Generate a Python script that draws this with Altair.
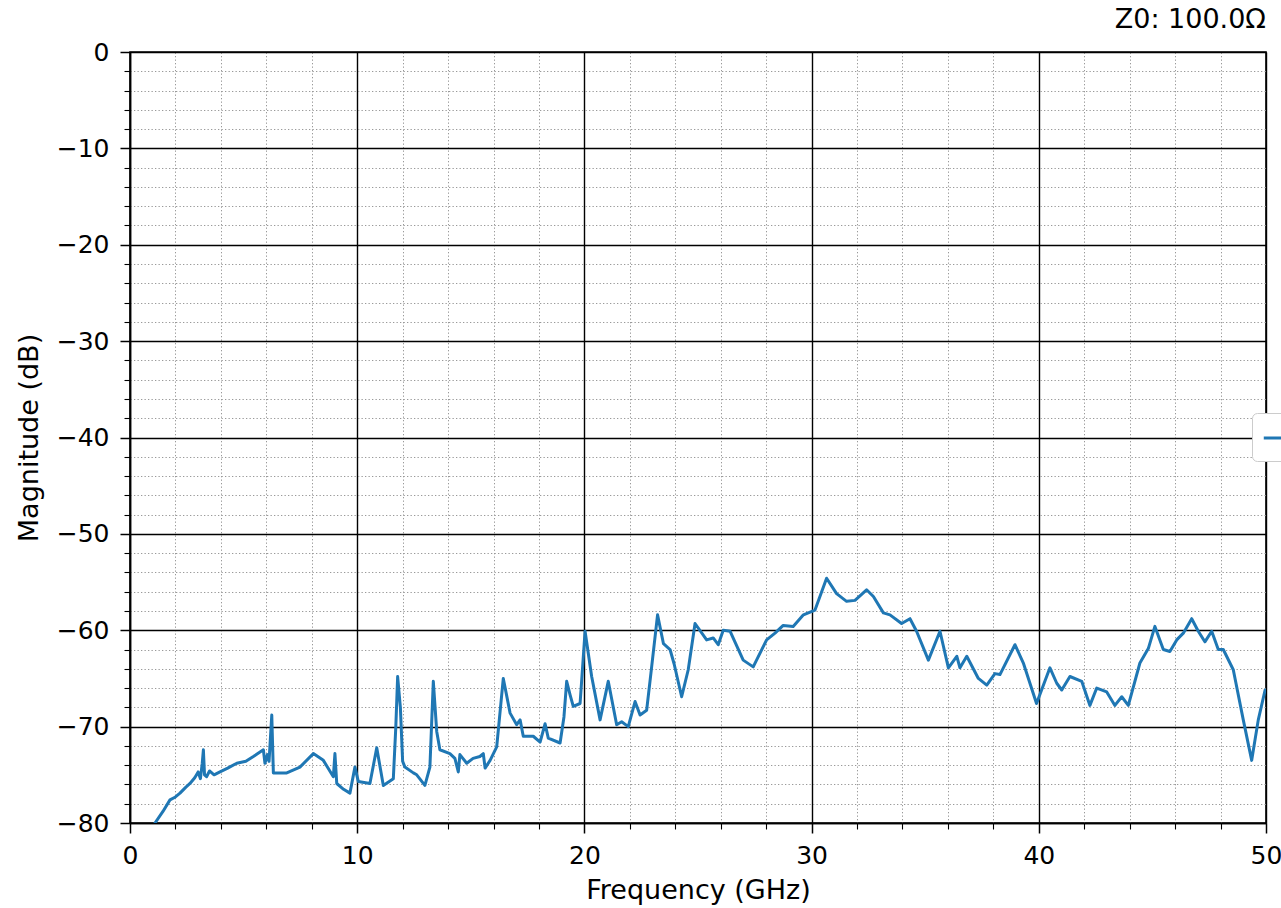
import altair as alt
import pandas as pd

# ---- data ----
freq_ghz = [
    1.10, 1.45, 1.76, 2.00, 2.20, 2.45, 2.64, 2.85, 3.00, 3.10, 3.18, 3.23, 3.28, 3.37,
    3.50, 3.70, 3.96, 4.30, 4.70, 5.10, 5.43, 5.87, 5.94, 6.05, 6.12, 6.24, 6.31, 6.90,
    7.48, 8.07, 8.51, 8.95, 9.02, 9.10, 9.40, 9.68, 9.90, 10.05, 10.56, 10.86, 11.15,
    11.59, 11.70, 11.78, 11.90, 12.00, 12.10, 12.47, 12.62, 12.98, 13.20, 13.35, 13.50,
    13.64, 14.08, 14.30, 14.45, 14.52, 14.82, 15.10, 15.40, 15.55, 15.63, 15.85, 16.14,
    16.43, 16.73, 17.02, 17.17, 17.31, 17.75, 18.05, 18.27, 18.41, 18.93, 19.10, 19.22,
    19.37, 19.51, 19.81, 20.03, 20.32, 20.69, 21.05, 21.42, 21.64, 21.93, 22.23, 22.45,
    22.74, 22.95, 23.22, 23.48, 23.77, 23.95, 24.28, 24.57, 24.87, 25.38, 25.67, 25.89,
    26.11, 26.41, 26.99, 27.43, 28.02, 28.39, 28.75, 29.19, 29.64, 30.15, 30.66, 31.10,
    31.54, 31.91, 32.42, 32.72, 33.16, 33.45, 33.96, 34.33, 34.62, 35.14, 35.65, 36.02,
    36.39, 36.53, 36.83, 37.34, 37.71, 38.07, 38.29, 38.95, 39.32, 39.90, 40.49, 40.79,
    41.01, 41.37, 41.89, 42.25, 42.55, 42.99, 43.35, 43.65, 43.94, 44.45, 44.82, 45.11,
    45.48, 45.77, 46.07, 46.36, 46.73, 47.02, 47.31, 47.61, 47.90, 48.12, 48.56, 49.00,
    49.37, 49.66, 49.96,
]
mag_db = [
    -80.0, -78.8, -77.6, -77.3, -76.9, -76.3, -75.9, -75.3, -74.7, -75.4, -73.8, -72.4, -75.0, -75.2,
    -74.6, -75.0, -74.7, -74.3, -73.8, -73.6, -73.1, -72.4, -73.8, -72.9, -73.6, -68.8, -74.8, -74.8,
    -74.2, -72.8, -73.5, -75.2, -72.8, -75.9, -76.5, -76.9, -74.2, -75.7, -75.9, -72.2, -76.1,
    -75.4, -70.0, -64.8, -68.0, -73.6, -74.2, -74.8, -75.0, -76.1, -74.2, -65.3, -70.5,
    -72.4, -72.8, -73.3, -74.7, -72.9, -73.8, -73.3, -73.1, -72.8, -74.3, -73.5, -72.1,
    -65.0, -68.6, -69.8, -69.3, -71.0, -71.0, -71.6, -69.7, -71.2, -71.7, -69.0, -65.3,
    -66.7, -67.9, -67.6, -60.1, -64.8, -69.3, -65.3, -69.8, -69.5, -70.0, -67.4, -68.8,
    -68.3, -64.0, -58.4, -61.4, -62.0, -63.5, -66.9, -64.1, -59.3, -61.0, -60.8, -61.5,
    -60.0, -60.1, -63.1, -63.8, -61.0, -60.3, -59.5, -59.6, -58.4, -57.9, -54.6, -56.2,
    -57.0, -56.9, -55.8, -56.5, -58.2, -58.4, -59.3, -58.8, -60.1, -63.1, -60.1, -63.9,
    -62.7, -63.9, -62.7, -65.0, -65.7, -64.5, -64.6, -61.5, -63.4, -67.6, -63.9, -65.5,
    -66.2, -64.8, -65.3, -67.8, -66.0, -66.4, -67.8, -66.9, -67.8, -63.4, -61.9, -59.6,
    -62.0, -62.2, -61.0, -60.3, -58.8, -60.1, -61.2, -60.1, -62.0, -62.0, -64.1, -69.3,
    -73.5, -69.3, -66.2,
]
trace_name = "trace"

x_major = [0, 10, 20, 30, 40, 50]
x_minor = [2, 4, 6, 8, 12, 14, 16, 18, 22, 24, 26, 28, 32, 34, 36, 38, 42, 44, 46, 48]
y_major = [-80, -70, -60, -50, -40, -30, -20, -10, 0]
y_minor = [-78, -76, -74, -72, -68, -66, -64, -62, -58, -56, -54, -52, -48, -46, -44, -42,
           -38, -36, -34, -32, -28, -26, -24, -22, -18, -16, -14, -12, -8, -6, -4, -2]

df = pd.DataFrame({"freq": freq_ghz, "mag": mag_db, "trace": [trace_name] * len(freq_ghz)})

FONT = "DejaVu Sans"
FS = 25      # tick labels
TFS = 27     # titles
xscale = alt.Scale(domain=[0, 50], nice=False, zero=False)
yscale = alt.Scale(domain=[-80, 0], nice=False, zero=False)

minor_common = dict(grid=True, gridColor="#999999", gridDash=[1.3, 2.2], gridWidth=1,
                    labels=False, domain=False, ticks=True, tickSize=6, tickColor="black",
                    tickWidth=1.1, title=None)

x_minor_axis = alt.Axis(orient="bottom", values=x_minor, **minor_common)
y_minor_axis = alt.Axis(orient="left", values=y_minor, **minor_common)

major_common = dict(grid=True, gridColor="black", gridWidth=1.4, gridOpacity=1,
                    domain=True, domainColor="black", domainWidth=1.6,
                    ticks=True, tickSize=10, tickColor="black", tickWidth=1.5,
                    labelFont=FONT, labelFontSize=FS, labelColor="black",
                    labelOverlap=False, titleFont=FONT, titleFontSize=TFS,
                    titleFontWeight="normal", titleColor="black")

x_major_axis = alt.Axis(orient="bottom", values=x_major, labelPadding=10, labelFlush=False,
                        title="Frequency (GHz)", titleX=568, titleY=75, titleAngle=0,
                        titleAlign="center", titleBaseline="alphabetic", **major_common)
y_major_axis = alt.Axis(orient="left", values=y_major, labelPadding=11, labelFlush=False,
                        title="Magnitude (dB)", titleX=-93, titleY=385.5, titleAngle=270,
                        titleAlign="center", titleBaseline="alphabetic", **major_common)

base = alt.Chart(df)

minor_layer = base.mark_line(strokeOpacity=0).encode(
    x=alt.X("freq:Q", scale=xscale, axis=x_minor_axis),
    y=alt.Y("mag:Q", scale=yscale, axis=y_minor_axis),
)

line_layer = base.mark_line(strokeWidth=3, clip=True, strokeJoin="round", strokeCap="round").encode(
    x=alt.X("freq:Q", scale=xscale, axis=x_major_axis),
    y=alt.Y("mag:Q", scale=yscale, axis=y_major_axis),
    color=alt.Color(
        "trace:N",
        scale=alt.Scale(range=["#1f77b4"]),
        legend=alt.Legend(orient="none", legendX=1122, legendY=361, title=None,
                          symbolType="stroke", symbolStrokeWidth=3, symbolSize=700,
                          padding=10, strokeColor="#cccccc", fillColor="white",
                          cornerRadius=5, labelExpr="''", labelFontSize=FS, labelFont=FONT),
    ),
)

chart = (
    alt.layer(minor_layer, line_layer)
    .resolve_axis(x="independent", y="independent")
    .properties(
        width=1136,
        height=771,
        padding={"left": 130, "top": 52, "right": 15, "bottom": 85},
        autosize=alt.AutoSizeParams(type="none"),
        title=alt.TitleParams("Z0: 100.0Ω", anchor="end", frame="group", orient="top",
                              fontSize=TFS, font=FONT, fontWeight="normal", color="black",
                              baseline="alphabetic", offset=-15),
        background="white",
    )
    .configure_view(stroke="black", strokeWidth=1.6)
)

chart.save("out.html", embed_options={"renderer": "svg", "actions": False})
